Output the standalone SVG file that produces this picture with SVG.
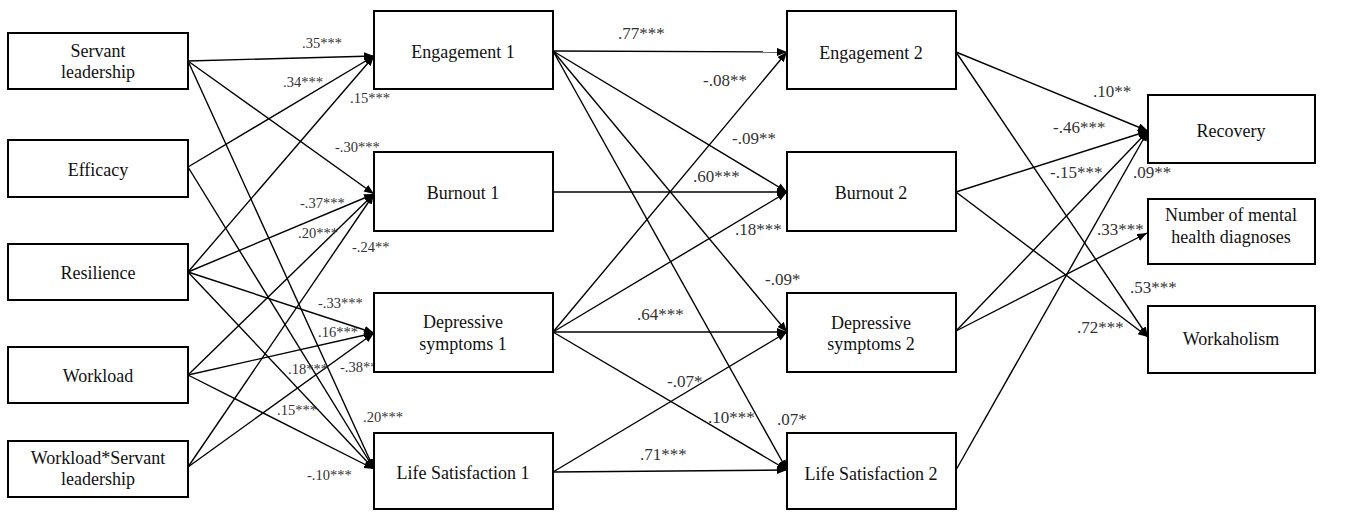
<svg xmlns="http://www.w3.org/2000/svg" width="1359" height="512" viewBox="0 0 1359 512">
<style>
.box{fill:#fff;stroke:#000;stroke-width:2}
.t{font-size:18px;fill:#111;text-anchor:middle}
.c{fill:none;stroke:#000;stroke-width:1.4;marker-end:url(#ah)}
.l{font-size:17px;fill:#333}
.s{font-size:14.5px}
</style>
<defs>
<marker id="ah" markerUnits="userSpaceOnUse" markerWidth="11" markerHeight="9" refX="10" refY="4" orient="auto">
<path d="M0,0 L10,4 L0,8 z" fill="#000"/>
</marker>
</defs>
<rect width="1359" height="512" fill="#fff"/>
<g id="connectors">
<line class="c" x1="188" y1="61" x2="374" y2="56"/>
<line class="c" x1="188" y1="61" x2="374" y2="194"/>
<line class="c" x1="188" y1="61" x2="374" y2="469"/>
<line class="c" x1="188" y1="167" x2="374" y2="56"/>
<line class="c" x1="188" y1="167" x2="374" y2="469"/>
<line class="c" x1="188" y1="272" x2="374" y2="56"/>
<line class="c" x1="188" y1="272" x2="374" y2="194"/>
<line class="c" x1="188" y1="272" x2="374" y2="333"/>
<line class="c" x1="188" y1="272" x2="374" y2="469"/>
<line class="c" x1="188" y1="375" x2="374" y2="194"/>
<line class="c" x1="188" y1="375" x2="374" y2="333"/>
<line class="c" x1="188" y1="375" x2="374" y2="469"/>
<line class="c" x1="188" y1="467" x2="374" y2="194"/>
<line class="c" x1="188" y1="467" x2="374" y2="333"/>
<line class="c" x1="553" y1="51" x2="787" y2="52"/>
<line class="c" x1="553" y1="51" x2="787" y2="192"/>
<line class="c" x1="553" y1="51" x2="787" y2="332"/>
<line class="c" x1="553" y1="51" x2="787" y2="470"/>
<line class="c" x1="553" y1="192" x2="787" y2="192"/>
<line class="c" x1="553" y1="332" x2="787" y2="52"/>
<line class="c" x1="553" y1="332" x2="787" y2="192"/>
<line class="c" x1="553" y1="332" x2="787" y2="332"/>
<line class="c" x1="553" y1="332" x2="787" y2="470"/>
<line class="c" x1="553" y1="472" x2="787" y2="332"/>
<line class="c" x1="553" y1="472" x2="787" y2="470"/>
<line class="c" x1="956" y1="52" x2="1148" y2="131"/>
<line class="c" x1="956" y1="52" x2="1148" y2="337"/>
<line class="c" x1="956" y1="192" x2="1148" y2="131"/>
<line class="c" x1="956" y1="192" x2="1148" y2="337"/>
<line class="c" x1="956" y1="331" x2="1148" y2="131"/>
<line class="c" x1="956" y1="331" x2="1147" y2="233"/>
<line class="c" x1="956" y1="470" x2="1148" y2="131"/>
</g>
<g id="labels" font-family="'Liberation Serif', 'Times New Roman', 'DejaVu Serif', serif">
<text class="l s" x="302" y="48">.35***</text>
<text class="l s" x="283" y="87">.34***</text>
<text class="l s" x="350" y="103">.15***</text>
<text class="l s" x="335" y="152">-.30***</text>
<text class="l s" x="300" y="208">-.37***</text>
<text class="l s" x="298" y="238">.20***</text>
<text class="l s" x="352" y="252">-.24**</text>
<text class="l s" x="318" y="308">-.33***</text>
<text class="l s" x="318" y="337">.16***</text>
<text class="l s" x="288" y="374">.18***</text>
<text class="l s" x="340" y="372">-.38***</text>
<text class="l s" x="277" y="415">.15***</text>
<text class="l s" x="363" y="422">.20***</text>
<text class="l s" x="307" y="480">-.10***</text>
<text class="l" x="618" y="39">.77***</text>
<text class="l" x="703" y="86">-.08**</text>
<text class="l" x="732" y="144">-.09**</text>
<text class="l" x="693" y="182">.60***</text>
<text class="l" x="735" y="235">.18***</text>
<text class="l" x="765" y="285">-.09*</text>
<text class="l" x="637" y="320">.64***</text>
<text class="l" x="667" y="387">-.07*</text>
<text class="l" x="708" y="423">.10***</text>
<text class="l" x="777" y="425">.07*</text>
<text class="l" x="640" y="460">.71***</text>
<text class="l" x="1093" y="97">.10**</text>
<text class="l" x="1053" y="133">-.46***</text>
<text class="l" x="1050" y="178">-.15***</text>
<text class="l" x="1133" y="178">.09**</text>
<text class="l" x="1097" y="235">.33***</text>
<text class="l" x="1130" y="293">.53***</text>
<text class="l" x="1077" y="333">.72***</text>
</g>
<g font-family="'Liberation Serif', 'Times New Roman', 'DejaVu Serif', serif">
<g id="servant"><rect class="box" x="8" y="33" width="180" height="56"/><text class="t" x="98" y="57">Servant</text><text class="t" x="98" y="78">leadership</text></g>
<g id="efficacy"><rect class="box" x="8" y="140" width="180" height="57"/><text class="t" x="98" y="176">Efficacy</text></g>
<g id="resilience"><rect class="box" x="8" y="244" width="180" height="56"/><text class="t" x="98" y="279">Resilience</text></g>
<g id="workload"><rect class="box" x="8" y="347" width="180" height="56"/><text class="t" x="98" y="382">Workload</text></g>
<g id="workload-servant"><rect class="box" x="8" y="441" width="180" height="56"/><text class="t" x="98" y="464">Workload*Servant</text><text class="t" x="98" y="485">leadership</text></g>
<g id="engagement1"><rect class="box" x="374" y="11" width="179" height="78"/><text class="t" x="463" y="58">Engagement 1</text></g>
<g id="burnout1"><rect class="box" x="374" y="152" width="179" height="79"/><text class="t" x="463" y="199">Burnout 1</text></g>
<g id="depressive1"><rect class="box" x="374" y="293" width="179" height="79"/><text class="t" x="463" y="328">Depressive</text><text class="t" x="463" y="350">symptoms 1</text></g>
<g id="lifesat1"><rect class="box" x="374" y="433" width="179" height="76"/><text class="t" x="463" y="479">Life Satisfaction 1</text></g>
<g id="engagement2"><rect class="box" x="787" y="11" width="169" height="78"/><text class="t" x="871" y="59">Engagement 2</text></g>
<g id="burnout2"><rect class="box" x="787" y="152" width="169" height="79"/><text class="t" x="871" y="199">Burnout 2</text></g>
<g id="depressive2"><rect class="box" x="787" y="293" width="169" height="79"/><text class="t" x="871" y="329">Depressive</text><text class="t" x="871" y="350">symptoms 2</text></g>
<g id="lifesat2"><rect class="box" x="787" y="433" width="169" height="76"/><text class="t" x="871" y="480">Life Satisfaction 2</text></g>
<g id="recovery"><rect class="box" x="1148" y="95" width="167" height="68"/><text class="t" x="1231" y="137">Recovery</text></g>
<g id="diagnoses"><rect class="box" x="1148" y="199" width="167" height="65"/><text class="t" x="1231" y="221">Number of mental</text><text class="t" x="1231" y="243">health diagnoses</text></g>
<g id="workaholism"><rect class="box" x="1148" y="306" width="167" height="67"/><text class="t" x="1231" y="345">Workaholism</text></g>
</g>
</svg>
